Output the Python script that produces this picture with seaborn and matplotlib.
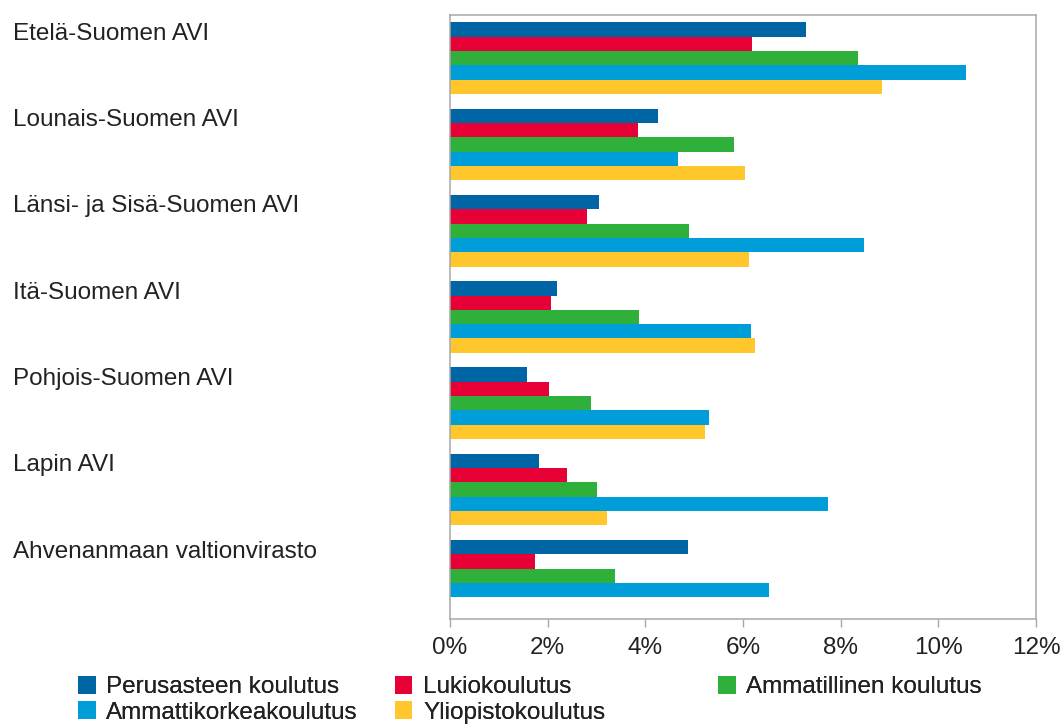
import matplotlib
matplotlib.use("Agg")
import matplotlib.pyplot as plt
from matplotlib.patches import Patch
import numpy as np
import pandas as pd
import seaborn as sns

regions = [
    "Etelä-Suomen AVI",
    "Lounais-Suomen AVI",
    "Länsi- ja Sisä-Suomen AVI",
    "Itä-Suomen AVI",
    "Pohjois-Suomen AVI",
    "Lapin AVI",
    "Ahvenanmaan valtionvirasto",
]
levels = [
    "Perusasteen koulutus",
    "Lukiokoulutus",
    "Ammatillinen koulutus",
    "Ammattikorkeakoulutus",
    "Yliopistokoulutus",
]
colors = ["#0065A4", "#E60036", "#2FB03A", "#009ED9", "#FFC72C"]

# share (%) per region, one list per education level
perusaste = [7.30, 4.25, 3.05, 2.19, 1.58, 1.83, 4.87]
lukio = [6.18, 3.84, 2.80, 2.07, 2.03, 2.40, 1.75]
ammatillinen = [8.36, 5.81, 4.89, 3.87, 2.89, 3.01, 3.38]
amk = [10.57, 4.66, 8.47, 6.16, 5.30, 7.74, 6.53]
yliopisto = [8.84, 6.05, 6.12, 6.25, 5.22, 3.21, np.nan]

xticks = [0, 2, 4, 6, 8, 10, 12]
xtick_labels = [f"{t}%" for t in xticks]

series = [perusaste, lukio, ammatillinen, amk, yliopisto]
df = pd.DataFrame(
    [(r, lvl, v) for lvl, vals in zip(levels, series) for r, v in zip(regions, vals)],
    columns=["alue", "koulutus", "osuus"],
)

sns.set_style("white")
plt.rcParams["font.family"] = ["Liberation Sans", "DejaVu Sans"]
text_color = "#222222"
grey = "#A8A8A8"
fs = 17.5

fig = plt.figure(figsize=(10.6, 7.26), dpi=100)
ax = fig.add_axes([0.4245, 0.1474, 0.5529, 0.8319])

sns.barplot(
    data=df, x="osuus", y="alue", hue="koulutus",
    order=regions, hue_order=levels, palette=colors,
    orient="h", width=0.83, errorbar=None, saturation=1,
    linewidth=0, legend=False, ax=ax,
)

ax.set_xlim(0, 12)
ax.set_xticks(xticks, xtick_labels)
ax.set_yticks(np.arange(len(regions)) - 0.31, regions)
ax.set_ylim(len(regions) - 0.5, -0.5)
ax.set_xlabel("")
ax.set_ylabel("")

for lab in ax.get_yticklabels():
    lab.set_ha("left")
ax.tick_params(axis="y", length=0, pad=314.6, labelsize=fs, labelcolor=text_color)
ax.tick_params(axis="x", length=6, width=1, color=grey, pad=7,
               labelsize=fs, labelcolor=text_color, bottom=True)

for sp in ax.spines.values():
    sp.set_visible(True)
    sp.set_color(grey)
    sp.set_linewidth(1.1)

handles = [Patch(facecolor=c, edgecolor="none") for c in colors]
columns = [([0, 3], 78), ([1, 4], 395), ([2], 718)]
for idx, xpx in columns:
    leg = fig.legend(
        [handles[i] for i in idx], [levels[i] for i in idx],
        loc="upper left", bbox_to_anchor=(xpx / 1060, 1 - 676 / 726),
        frameon=False, fontsize=fs, borderpad=0, borderaxespad=0,
        handlelength=0.72, handleheight=0.75, handletextpad=0.45,
        labelspacing=0.12, labelcolor=text_color,
    )
    fig.add_artist(leg)

fig.savefig("out.png", dpi=100)
